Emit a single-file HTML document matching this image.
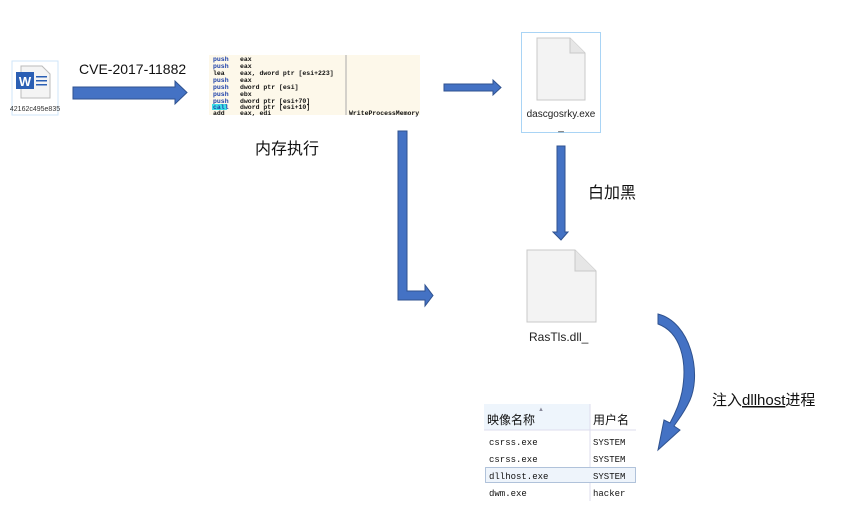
<!DOCTYPE html>
<html><head><meta charset="utf-8"><style>
body{margin:0;background:#fff;width:847px;height:501px;overflow:hidden;}
svg text{font-family:"Liberation Sans","Noto Sans CJK SC",sans-serif;}
svg .m text{font-family:"Liberation Mono",monospace;}
</style></head><body>
<svg width="847" height="501" xmlns="http://www.w3.org/2000/svg">
<!-- word icon -->
<rect x="12" y="61" width="46" height="54" fill="#fff" stroke="#cfe6fa"/>
<path d="M21 66 H42 L50 74 V98 H21 Z" fill="#f4f4f4" stroke="#bbb"/>
<rect x="16" y="72" width="18" height="17" fill="#2b5fb4"/>
<text x="25" y="86" font-size="13" font-weight="bold" fill="#fff" text-anchor="middle">W</text>
<rect x="36" y="76" width="11" height="1.5" fill="#2b5fb4"/><rect x="36" y="80" width="11" height="1.5" fill="#2b5fb4"/><rect x="36" y="84" width="11" height="1.5" fill="#2b5fb4"/>
<text x="35" y="111" font-size="7" fill="#333" text-anchor="middle">42162c495e835</text>
<!-- arrow1 -->
<path d="M73 87 H175 V81 L187 92.5 L175 104 V99 H73 Z" fill="#4472c4" stroke="#2f528f" stroke-width="1"/>
<text x="79" y="74" font-size="14" fill="#111">CVE-2017-11882</text>
<!-- code -->
<rect x="209" y="55" width="211" height="60" fill="#fdf8ea"/>
<line x1="346" y1="55" x2="346" y2="115" stroke="#aaa"/>
<g class="m" font-size="6.5" fill="#111" font-weight="bold">
<text x="213" y="61" fill="#1c3fa8">push</text><text x="240" y="61">eax</text>
<text x="213" y="68" fill="#1c3fa8">push</text><text x="240" y="68">eax</text>
<text x="213" y="75">lea</text><text x="240" y="75">eax, dword ptr [esi+223]</text>
<text x="213" y="82" fill="#1c3fa8">push</text><text x="240" y="82">eax</text>
<text x="213" y="89" fill="#1c3fa8">push</text><text x="240" y="89">dword ptr [esi]</text>
<text x="213" y="96" fill="#1c3fa8">push</text><text x="240" y="96">ebx</text>
<text x="213" y="103" fill="#1c3fa8">push</text><text x="240" y="103">dword ptr [esi+70]</text>
<rect x="212" y="104" width="15" height="6" fill="#3fe0e8"/>
<text x="213" y="109" fill="#1c3fa8">call</text><text x="240" y="109">dword ptr [esi+10]</text>
<text x="213" y="115">add</text><text x="240" y="115">eax, edi</text><text x="349" y="115">WriteProcessMemory</text>
</g>
<text x="255" y="154" font-size="16" fill="#111">内存执行</text>
<!-- arrow2 -->
<path d="M444 84 H493 V80 L501 87.5 L493 95 V91 H444 Z" fill="#4472c4" stroke="#2f528f"/>
<!-- dascgosrky -->
<rect x="521.5" y="32.5" width="79" height="100" fill="#fff" stroke="#a9d4f5"/>
<path d="M537 38 H570 L585 53 V100 H537 Z" fill="#f3f3f3" stroke="#c8c8c8"/>
<path d="M570 38 V53 H585" fill="#e6e6e6" stroke="#c8c8c8"/>
<text x="561" y="117" font-size="10" fill="#222" text-anchor="middle">dascgosrky.exe</text>
<text x="561" y="130" font-size="10" fill="#222" text-anchor="middle">_</text>
<!-- down arrow -->
<path d="M557 146 H565 V232 H568 L561 240 L553 232 H557 Z" fill="#4472c4" stroke="#2f528f"/>
<text x="588" y="198" font-size="16" fill="#111">白加黑</text>
<!-- L arrow -->
<path d="M398 131 H407 V291 H425 V285 L433 295.5 L425 306 V300 H398 Z" fill="#4472c4" stroke="#2f528f"/>
<!-- RasTls -->
<path d="M527 250 H575 L596 271 V322 H527 Z" fill="#f3f3f3" stroke="#c8c8c8"/>
<path d="M575 250 V271 H596" fill="#e6e6e6" stroke="#c8c8c8"/>
<text x="529" y="341" font-size="12" fill="#222">RasTls.dll_</text>
<!-- curved arrow -->
<path d="M658 314 C690 322 702 372 690 400 C684 413 678 420 674 426 L680 430 L658 450 L664 420 L670 423 C676 412 680 402 682 392 C688 360 680 332 658 324 Z" fill="#4472c4" stroke="#2f528f"/>
<text x="712" y="405" font-size="15" fill="#111">注入<tspan text-decoration="underline">dllhost</tspan>进程</text>
<!-- table -->
<rect x="484" y="404" width="152" height="97" fill="#fff"/>
<rect x="484" y="404" width="106" height="26" fill="#eef5fc"/>
<line x1="590" y1="404" x2="590" y2="501" stroke="#dde"/>
<line x1="484" y1="430" x2="636" y2="430" stroke="#dde"/>
<text x="538" y="411" font-size="6" fill="#889">▲</text>
<text x="487" y="424" font-size="12" fill="#111">映像名称</text>
<text x="593" y="424" font-size="12" fill="#111">用户名</text>
<g class="m" font-size="9" fill="#111">
<text x="489" y="445">csrss.exe</text><text x="593" y="445">SYSTEM</text>
<text x="489" y="462">csrss.exe</text><text x="593" y="462">SYSTEM</text>
<rect x="485.5" y="467.5" width="150" height="15" fill="#eef4fb" stroke="#6a8bb8" stroke-dasharray="1,1"/>
<text x="489" y="479">dllhost.exe</text><text x="593" y="479">SYSTEM</text>
<text x="489" y="496">dwm.exe</text><text x="593" y="496">hacker</text>
</g>
</svg>
</body></html>
